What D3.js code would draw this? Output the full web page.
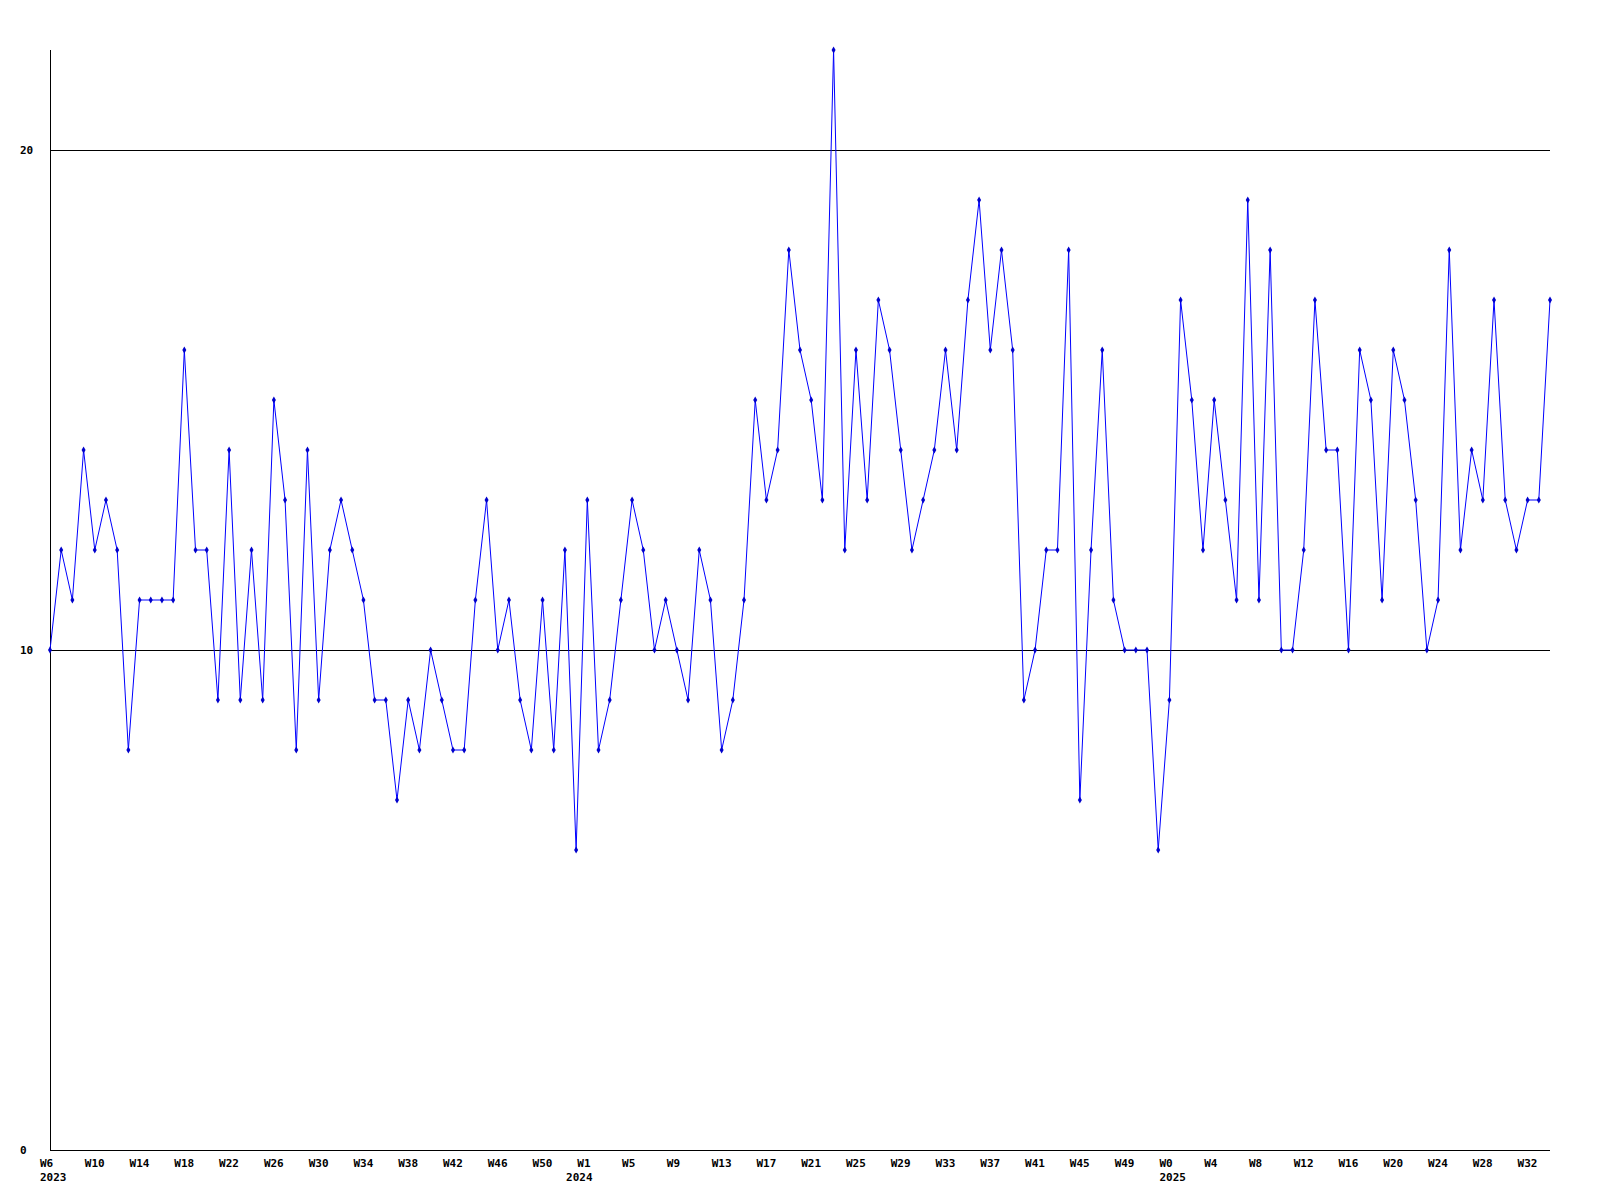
<!DOCTYPE html>
<html>
<head>
<meta charset="utf-8">
<script src="https://cdn.jsdelivr.net/npm/d3@7"></script>
<style>
  html, body { margin: 0; padding: 0; background: #fff; }
  svg { display: block; }
  text { font-family: "DejaVu Sans Mono", "Liberation Mono", monospace; font-weight: bold; font-size: 11px; fill: #000; }
</style>
</head>
<body>
<svg id="chart" width="1600" height="1200"></svg>
<script>
// Weekly values, 2023 W6 .. 2025 W34
const values = [
  10,12,11,14,12,13,12,8,11,11,11,11,16,12,12,9,14,9,12,9,
  15,13,8,14,9,12,13,12,11,9,9,7,9,8,10,9,8,8,11,13,
  10,11,9,8,11,8,12,6,13,8,9,11,13,12,10,11,10,9,12,11,
  8,9,11,15,13,14,18,16,15,13,22,12,16,13,17,16,14,12,13,14,
  16,14,17,19,16,18,16,9,10,12,12,18,7,12,16,11,10,10,10,6,
  9,17,15,12,15,13,11,19,11,18,10,10,12,17,14,14,10,16,15,11,
  16,15,13,10,11,18,12,14,13,17,13,12,13,13,17
];
// Year segments: [year, first week label, number of weeks]
const yearSegments = [
  [2023, 6, 47],
  [2024, 0, 53],
  [2025, 0, 35]
];
const yTickValues = [0, 10, 20];
const gridValues = [10, 20];
const tickEvery = 4;

(function () {
  // Build per-point labels
  const weekLabels = [];
  const yearStart = [];
  yearSegments.forEach(([yr, w0, n]) => {
    yearStart.push({ year: String(yr), index: weekLabels.length });
    for (let k = 0; k < n; k++) weekLabels.push("W" + (w0 + k));
  });

  const svg = d3.select("#chart");
  const mLeft = 50, mRight = 1550, mTop = 50, mBottom = 1150;

  const x = d3.scaleLinear().domain([0, values.length - 1]).range([mLeft, mRight]);
  const y = d3.scaleLinear().domain([0, 22]).range([mBottom, mTop]);

  // gridlines
  svg.append("g").selectAll("line").data(gridValues).join("line")
    .attr("x1", mLeft).attr("x2", mRight)
    .attr("y1", d => y(d) + 0.5).attr("y2", d => y(d) + 0.5)
    .attr("stroke", "#000").attr("stroke-width", 1);

  // axes lines
  svg.append("line").attr("x1", mLeft + 0.5).attr("x2", mLeft + 0.5)
    .attr("y1", mTop).attr("y2", mBottom + 0.5).attr("stroke", "#000");
  svg.append("line").attr("x1", mLeft).attr("x2", mRight)
    .attr("y1", mBottom + 0.5).attr("y2", mBottom + 0.5).attr("stroke", "#000");

  // y labels
  svg.append("g").selectAll("text").data(yTickValues).join("text")
    .attr("x", 20).attr("y", d => y(d)).attr("dy", "0.35em")
    .text(d => d);

  // x labels
  const tickIdx = d3.range(0, values.length, tickEvery);
  svg.append("g").selectAll("text").data(tickIdx).join("text")
    .attr("x", d => x(d) - 10).attr("y", mBottom + 13).attr("dy", "0.35em")
    .text(d => weekLabels[d]);

  svg.append("g").selectAll("text").data(yearStart).join("text")
    .attr("x", d => x(d.index) - 10).attr("y", mBottom + 27).attr("dy", "0.35em")
    .text(d => d.year);

  // line
  const line = d3.line().x((d, i) => x(i)).y(d => y(d));
  svg.append("path").datum(values)
    .attr("fill", "none").attr("stroke", "#0000ff").attr("stroke-width", 1)
    .attr("d", line);

  // markers
  svg.append("g").selectAll("path").data(values).join("path")
    .attr("transform", (d, i) => `translate(${x(i)},${y(d)})`)
    .attr("d", d3.symbol().type(d3.symbolDiamond).size(14))
    .attr("fill", "#0000cc");
})();
</script>
</body>
</html>
